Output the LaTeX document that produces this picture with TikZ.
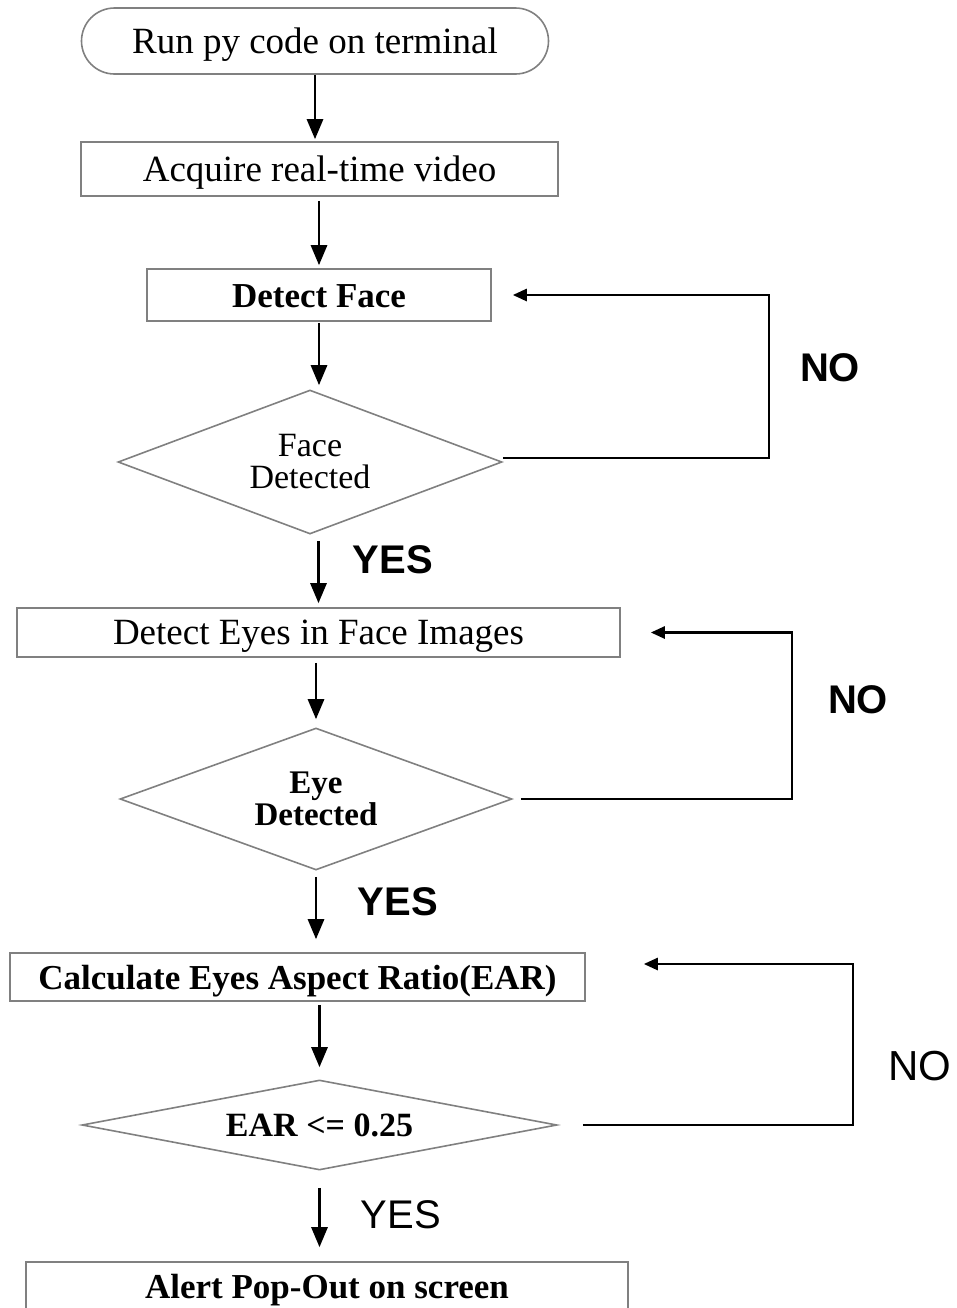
\documentclass[tikz,border=0pt]{standalone}
\usepackage{fontspec}
\setmainfont{Liberation Serif}
\newfontfamily\answerfont{Liberation Sans}
\usetikzlibrary{shapes.geometric,arrows.meta}

\begin{document}
\begin{tikzpicture}[x=0.5pt,y=-0.5pt,
	box/.style={draw=black!50,line width=0.8pt,rectangle,inner sep=0pt,text height=12.5pt,text depth=0.5pt,font=\fontsize{18.5}{16}\selectfont},
	boldbox/.style={box,font=\fontsize{17.5}{16}\selectfont\bfseries},
	decision/.style={draw=black!50,line width=0.8pt,diamond,inner sep=0pt,align=center,font=\fontsize{17}{16}\selectfont},
	flow/.style={-{Triangle[length=10pt,width=8pt]},line width=1.4pt},
	back/.style={-{Triangle[length=7pt,width=6pt]},line width=1.3pt},
	answer/.style={font=\answerfont\fontsize{20}{20}\selectfont\bfseries}]
		%%
	\clip (0,0) rectangle (957,1308);
	\node (Run) at (315,41) [box,rounded corners=16.5pt,minimum width=233.5pt,minimum height=33pt] {Run py code on terminal};
  \node (Acquire) at (319.5,169) [box,minimum width=238.5pt,minimum height=27pt] {Acquire real-time video};
  \node (Face) at (319,295) [boldbox,minimum width=172pt,minimum height=26pt] {Detect Face};
  \node (FaceQ) at (310,462) [decision,aspect=2.67,minimum width=192pt,minimum height=72pt] {Face\\Detected};
  \node (Eyes) at (318.5,632.5) [box,minimum width=301.5pt,minimum height=24.5pt] {Detect Eyes in Face Images};
  \node (EyeQ) at (316,799) [decision,aspect=2.76,font=\fontsize{16.5}{16}\selectfont\bfseries,minimum width=196pt,minimum height=71pt] {Eye\\Detected};
  \node (EAR) at (297.5,977) [boldbox,minimum width=287.5pt,minimum height=24pt] {Calculate Eyes Aspect Ratio(EAR)};
  \node (EARQ) at (319.5,1125) [decision,aspect=5.28,font=\fontsize{17}{15}\selectfont\bfseries,minimum width=237.5pt,minimum height=45pt] {EAR <= 0.25};
  \node (Alert) at (327,1286) [boldbox,minimum width=301pt,minimum height=24pt] {Alert Pop-Out on screen};
		%
  \draw [flow,shorten >=1pt] (Run.south) -- (Run.south |- Acquire.north);
  \draw [flow,shorten <=2pt,shorten >=1.5pt] (Face.north |- Acquire.south) -- (Face.north);
  \draw [flow,shorten <=0.5pt,shorten >=2pt] (Face.south) -- (Face.south |- FaceQ.north);
  \draw [flow,shorten <=3pt,shorten >=2pt] (Eyes.north |- FaceQ.south) -- (Eyes.north);
  \draw [flow,shorten <=2.5pt,shorten >=4pt] (EyeQ.north |- Eyes.south) -- (EyeQ.north);
  \draw [flow,shorten <=3pt,shorten >=6.5pt] (EyeQ.south) -- (EyeQ.south |- EAR.north);
  \draw [flow,shorten <=1.5pt,shorten >=6pt] (EARQ.north |- EAR.south) -- (EARQ.north);
  \draw [flow,shorten <=8.5pt,shorten >=7pt] (EARQ.south) -- (EARQ.south |- Alert.north);
		%
  \draw [back,shorten >=10.5pt] ([yshift=2pt]FaceQ.east) -- ++(266,0) |- (Face.east);
  \draw [back,shorten <=4pt,shorten >=15pt] (EyeQ.east) -- ++(279,0) |- (Eyes.east);
  \draw [back,shorten <=12.5pt,shorten >=29pt] (EARQ.east) -- ++(295,0) |- ([yshift=6.5pt]EAR.east);
		%
  \node (No1) at (830,368) [answer] {NO};
  \node (Yes1) at (393,560) [answer] {YES};
  \node (No2) at (858,700) [answer] {NO};
  \node (Yes2) at (398,902) [answer] {YES};
  \node (No3) at (920,1066) [answer,font=\answerfont\fontsize{21}{21}\selectfont] {NO};
  \node (Yes3) at (401,1215) [answer,font=\answerfont\fontsize{20}{20}\selectfont] {YES};
		%
	\end{tikzpicture}
\end{document}
